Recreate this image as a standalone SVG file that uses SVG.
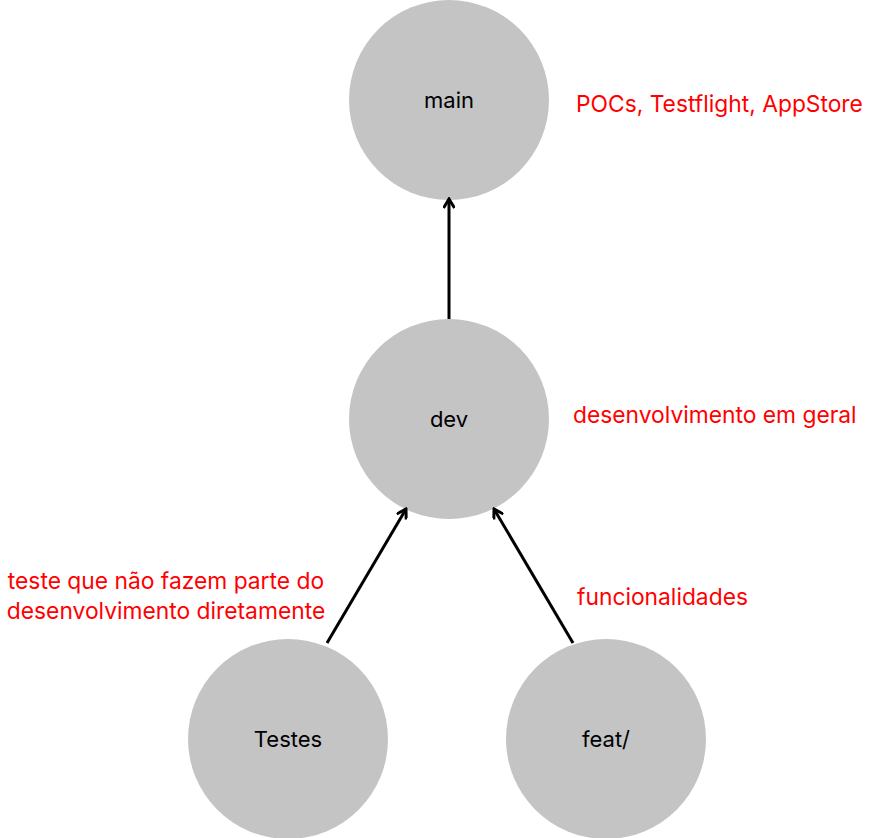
<svg xmlns="http://www.w3.org/2000/svg" width="884" height="838" viewBox="0 0 884 838">
<style>
.node{fill:#c4c4c4}
.lbl{font-family:Inter,"Noto Sans",sans-serif;font-size:22px;fill:#000;text-anchor:middle}
.note{font-family:Inter,"Noto Sans",sans-serif;font-size:22.8px;fill:#ff0000}
.edge{stroke:#000;stroke-width:3;fill:none}
</style>
<defs>
<marker id="arr" viewBox="0 0 12 12" refX="10" refY="6" markerWidth="12" markerHeight="12" markerUnits="userSpaceOnUse" orient="auto">
<path d="M1,0.5 L10,6 L1,11.5" fill="none" stroke="#000" stroke-width="3"/>
</marker>
</defs>
<rect width="884" height="838" fill="#fff"/>
<g id="main"><circle class="node" cx="449" cy="100" r="100"/><text class="lbl" x="449" y="108">main</text></g>
<g id="dev"><circle class="node" cx="449" cy="419" r="100"/><text class="lbl" x="449" y="427">dev</text></g>
<g id="testes"><circle class="node" cx="288" cy="739" r="100"/><text class="lbl" x="288" y="747">Testes</text></g>
<g id="feat"><circle class="node" cx="606" cy="739" r="100"/><text class="lbl" x="606" y="747">feat/</text></g>
<g id="connectors">
<line class="edge" x1="449" y1="319" x2="449" y2="199" marker-end="url(#arr)"/>
<line class="edge" x1="327" y1="643" x2="406" y2="509" marker-end="url(#arr)"/>
<line class="edge" x1="573" y1="643" x2="494" y2="509" marker-end="url(#arr)"/>
</g>
<g id="notes">
<text class="note" x="576" y="112">POCs, Testflight, AppStore</text>
<text class="note" x="573" y="423">desenvolvimento em geral</text>
<text class="note" x="577" y="605">funcionalidades</text>
<text class="note" x="166" y="589" text-anchor="middle">teste que não fazem parte do</text>
<text class="note" x="166" y="619" text-anchor="middle">desenvolvimento diretamente</text>
</g>
</svg>
